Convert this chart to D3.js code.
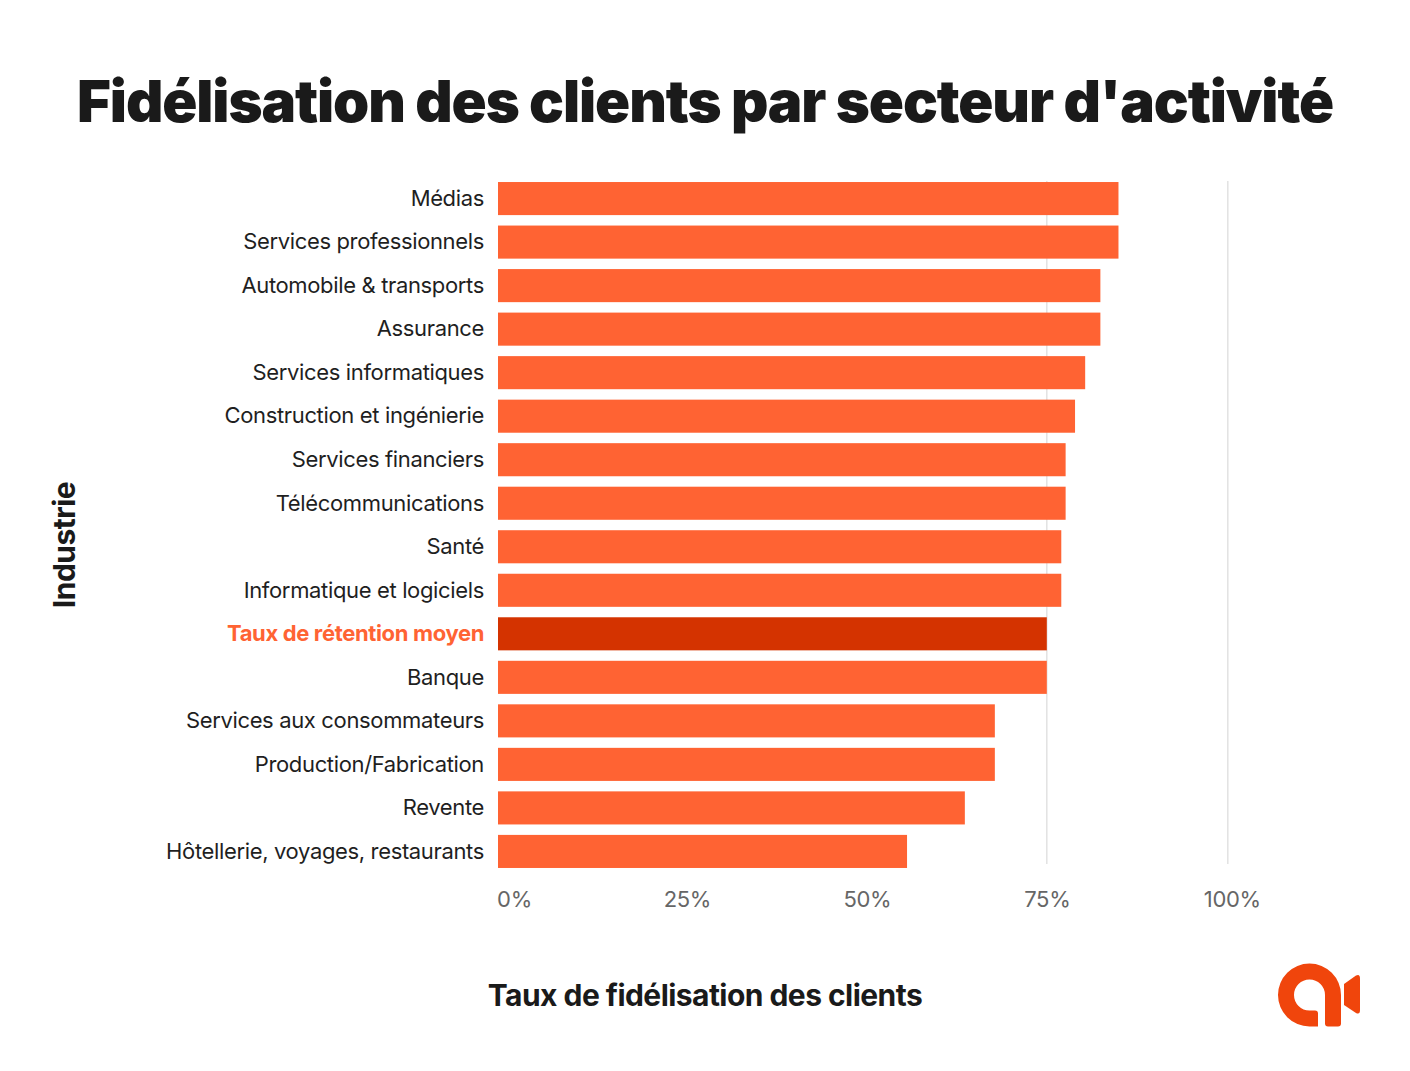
<!DOCTYPE html>
<html>
<head>
<meta charset="utf-8">
<script src="https://cdn.jsdelivr.net/npm/d3@7"></script>
<style>
  body { margin: 0; background: #fff; }
  svg { display: block; font-family: Inter, sans-serif; }
  .domain { display: none; }
  .tick line { display: none; }
</style>
</head>
<body>
<svg id="chart" width="1410" height="1071"></svg>
<script>
const categories = [
  'Médias',
  'Services professionnels',
  'Automobile & transports',
  'Assurance',
  'Services informatiques',
  'Construction et ingénierie',
  'Services financiers',
  'Télécommunications',
  'Santé',
  'Informatique et logiciels',
  'Taux de rétention moyen',
  'Banque',
  'Services aux consommateurs',
  'Production/Fabrication',
  'Revente',
  'Hôtellerie, voyages, restaurants',
];
const retention = [84.9, 84.9, 82.4, 82.4, 80.3, 78.9, 77.6, 77.6, 77, 77, 75, 75, 67.9, 67.9, 63.8, 55.9];
const xTicks = [0, 25, 50, 75, 100];
const gridTicks = [75, 100]; // the lower ones are hidden in the reference
const highlighted = 'Taux de rétention moyen';
const tickOffsets = [16, 6, 3, 0, 4]; // the labels are not quite centred on their ticks

const svg = d3.select('#chart');

// The reference axis is slightly tighter above 75%, hence the three stops
const x = d3.scaleLinear().domain([0, 75, 100]).range([498, 1046.8, 1227.8]);
const y = d3.scaleBand()
    .domain(categories)
    .range([176.8, 873.2])
    .paddingInner(0.24)
    .paddingOuter(0.12);

svg.append('text')
    .attr('x', 705)
    .attr('y', 122)
    .attr('text-anchor', 'middle')
    .attr('font-size', 58)
    .attr('font-weight', 900)
    .attr('letter-spacing', -1.1)
    .attr('fill', '#1a1a1a')
    .text("Fidélisation des clients par secteur d'activité");

// Gridlines sit behind the bars
svg.append('g')
    .selectAll('line')
    .data(gridTicks)
    .enter().append('line')
    .attr('x1', d => x(d))
    .attr('x2', d => x(d))
    .attr('y1', 181)
    .attr('y2', 864)
    .attr('stroke', '#e2e2e2')
    .attr('stroke-width', 1.5);

svg.append('g')
    .selectAll('rect')
    .data(categories)
    .enter().append('rect')
    .attr('x', x(0))
    .attr('y', d => y(d))
    .attr('width', (d, i) => x(retention[i]) - x(0))
    .attr('height', y.bandwidth())
    .attr('fill', d => d === highlighted ? '#d43300' : '#ff6333');

const yAxis = svg.append('g')
    .attr('transform', `translate(${x(0)},0)`)
    .call(d3.axisLeft(y).tickSize(0).tickPadding(14));
yAxis.selectAll('text')
    .attr('font-family', 'Inter, sans-serif')
    .attr('font-size', 22)
    .attr('letter-spacing', -0.35)
    .attr('dy', '0.33em')
    .attr('fill', d => d === highlighted ? '#ff6333' : '#1f1f1f')
    .attr('font-weight', d => d === highlighted ? 700 : 400);

const xAxis = svg.append('g')
    .attr('transform', 'translate(0,891)')
    .call(d3.axisBottom(x).tickValues(xTicks).tickFormat(d => d + '%').tickSize(0).tickPadding(0));
xAxis.selectAll('text')
    .attr('font-family', 'Inter, sans-serif')
    .attr('font-size', 22)
    .attr('letter-spacing', -0.3)
    .attr('fill', '#666')
    .attr('dx', (d, i) => tickOffsets[i]);

svg.append('text')
    .attr('x', 705)
    .attr('y', 1006)
    .attr('text-anchor', 'middle')
    .attr('font-size', 30)
    .attr('font-weight', 700)
    .attr('letter-spacing', -0.55)
    .attr('fill', '#1a1a1a')
    .text('Taux de fidélisation des clients');

svg.append('text')
    .attr('transform', 'translate(75,545) rotate(-90)')
    .attr('text-anchor', 'middle')
    .attr('font-size', 30)
    .attr('font-weight', 700)
    .attr('letter-spacing', -0.5)
    .attr('fill', '#1a1a1a')
    .text('Industrie');

// Logo
const logo = svg.append('g').attr('fill', '#f0450c');
logo.append('path')
    .attr('d', 'M1318,1026.5 H1309.5 A31.5 31.5 0 1 1 1341,995 V1023.5 q0,3 -3,3 H1328 q-3,0 -3,-3 V995 A15.5 15.5 0 1 0 1309.5,1010.5 H1315 q3,0 3,3 Z');
logo.append('path')
    .attr('d', 'M1344,984 L1356,975.5 q4,-2 4,3 V1010 q0,5 -4,3 L1344,1005 Z');
</script>
</body>
</html>
